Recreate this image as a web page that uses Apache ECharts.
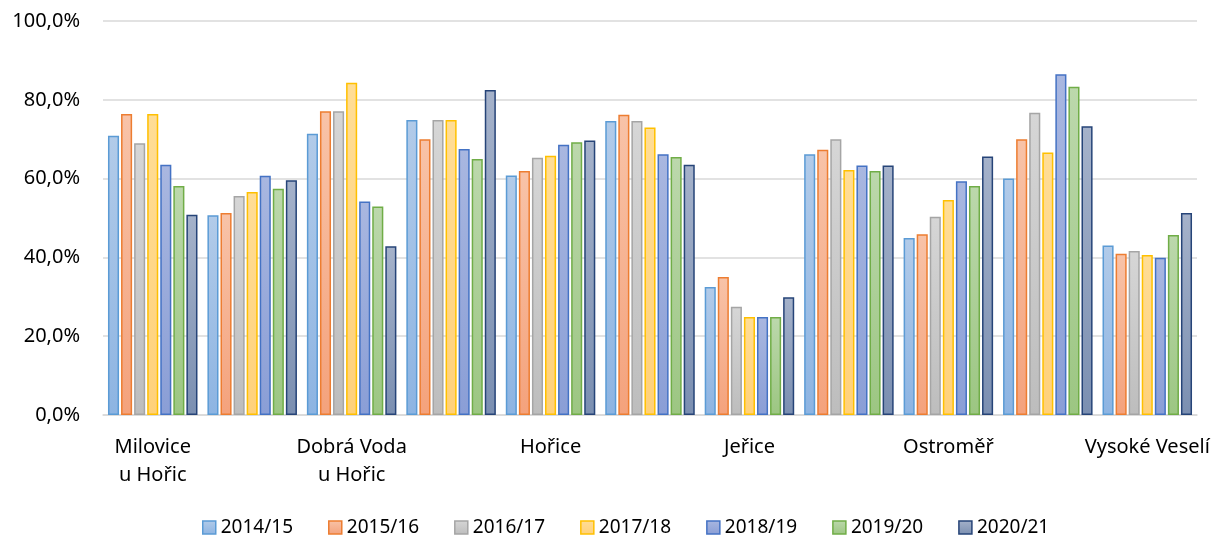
<!DOCTYPE html>
<html>
<head>
<meta charset="utf-8">
<script src="https://cdn.jsdelivr.net/npm/echarts@6/dist/echarts.min.js"></script>
<style>
  html, body { margin: 0; padding: 0; background: #fff; }
  #chart { width: 1217px; height: 539px; }
</style>
</head>
<body>
<div id="chart"></div>
<script>
// obce - jen kazdy druhy popisek je v grafu videt
var categories = ['Milovice\nu Hořic', 'obec 2', 'Dobrá Voda\nu Hořic', 'obec 4', 'Hořice', 'obec 6',
                  'Jeřice', 'obec 8', 'Ostroměř', 'obec 10', 'Vysoké Veselí'];
var years = ['2014/15', '2015/16', '2016/17', '2017/18', '2018/19', '2019/20', '2020/21'];

// podil v procentech, po skolnich rocich
var v2014 = [70.9, 50.7, 71.4, 74.9, 60.8, 74.6, 32.5, 66.2, 44.9, 60.0, 43.0];
var v2015 = [76.4, 51.3, 77.1, 70.0, 61.9, 76.2, 35.0, 67.3, 45.9, 70.0, 40.9];
var v2016 = [69.0, 55.6, 77.1, 74.9, 65.3, 74.6, 27.5, 70.0, 50.3, 76.7, 41.6];
var v2017 = [76.4, 56.6, 84.3, 74.9, 65.8, 73.0, 24.9, 62.2, 54.6, 66.6, 40.6];
var v2018 = [63.5, 60.7, 54.2, 67.5, 68.6, 66.2, 24.9, 63.3, 59.3, 86.5, 39.9];
var v2019 = [58.1, 57.4, 52.9, 65.0, 69.2, 65.5, 24.9, 61.9, 58.1, 83.3, 45.7];
var v2020 = [50.8, 59.6, 42.8, 82.5, 69.7, 63.5, 29.9, 63.3, 65.6, 73.3, 51.3];
var values = [v2014, v2015, v2016, v2017, v2018, v2019, v2020];

// barvy: okraj, svetly vrch, tmavsi spodek
var borders = ['#5B9BD5', '#ED7D31', '#A5A5A5', '#FFC000', '#4472C4', '#70AD47', '#264478'];
var topCol  = ['#B2CBE9', '#F8C3A8', '#D6D6D6', '#FFDD96', '#A9B7E0', '#BCD8AC', '#A5B2CA'];
var botCol  = ['#8DB4E2', '#F4A27C', '#BDBDBD', '#FFD17A', '#8A9ED6', '#9CC682', '#7B8FB1'];

var font = 'Noto Sans';

function grad(i) {
    return new echarts.graphic.LinearGradient(0, 0, 0, 1, [
        { offset: 0, color: topCol[i] },
        { offset: 1, color: botCol[i] }
    ]);
}

var series = [];
for (var i = 0; i < years.length; i++) {
    series.push({
        name: years[i],
        type: 'bar',
        data: values[i],
        barGap: '18%',
        barCategoryGap: '10%',
        itemStyle: {
            color: grad(i),
            borderColor: borders[i],
            borderWidth: 1.5
        }
    });
}

var myChart = echarts.init(document.getElementById('chart'));
var option = {
    animation: false,
    color: borders,
    grid: { left: 103, right: 20, top: 21, bottom: 124 },
    legend: {
        bottom: -3,
        left: 197,
        itemWidth: 13,
        itemHeight: 13,
        itemGap: 35,
        icon: 'rect',
        textStyle: { fontFamily: font, fontSize: 19, color: '#000' },
        data: years.map(function (y, i) {
            return { name: y, itemStyle: { color: grad(i), borderColor: borders[i], borderWidth: 1.5 } };
        })
    },
    xAxis: {
        type: 'category',
        data: categories,
        axisLine: { lineStyle: { color: '#D9D9D9', width: 1.5 } },
        axisTick: { show: false },
        axisLabel: {
            interval: 1,
            margin: 18,
            fontFamily: font,
            fontSize: 20,
            lineHeight: 28,
            color: '#000'
        }
    },
    yAxis: {
        type: 'value',
        min: 0,
        max: 100,
        interval: 20,
        axisLine: { show: false },
        axisTick: { show: false },
        splitLine: { lineStyle: { color: '#D9D9D9', width: 1.5 } },
        axisLabel: {
            margin: 23,
            fontFamily: font,
            fontSize: 20,
            color: '#000',
            formatter: function (v) { return v.toFixed(1).replace('.', ',') + '%'; }
        }
    },
    series: series
};
myChart.setOption(option);
</script>
</body>
</html>
